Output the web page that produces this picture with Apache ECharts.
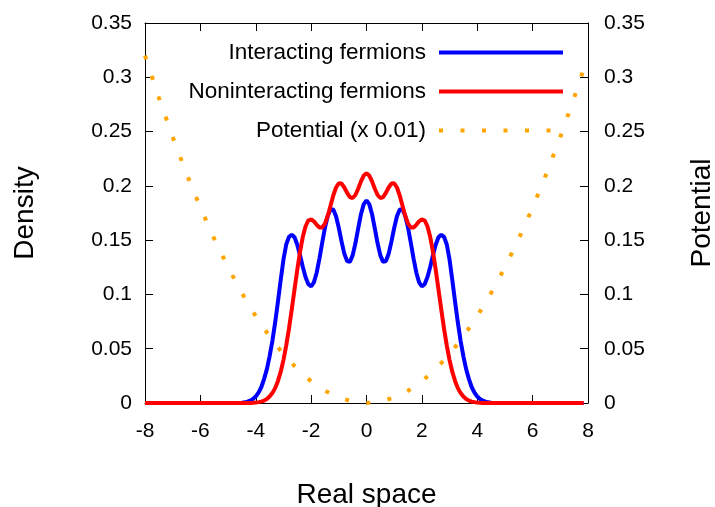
<!DOCTYPE html>
<html>
<head>
<meta charset="utf-8">
<script src="https://cdn.jsdelivr.net/npm/echarts@6/dist/echarts.min.js"></script>
<style>
  html, body { margin: 0; padding: 0; background: #fff; overflow: hidden; }
  #chart { width: 715px; height: 507px; }
</style>
</head>
<body>
<div id="chart"></div>
<script>
// Sample positions along the real-space axis
const xs = [
  -8, -7, -6, -5,
  -4.5, -4.4, -4.3, -4.2, -4.1, -4.0, -3.9, -3.8, -3.7, -3.6,
  -3.5, -3.4, -3.3, -3.2, -3.1, -3.0, -2.9, -2.8, -2.7, -2.6,
  -2.5, -2.4, -2.3, -2.2, -2.1, -2.0, -1.9, -1.8, -1.7, -1.6,
  -1.5, -1.4, -1.3, -1.2, -1.1, -1.0, -0.9, -0.8, -0.7, -0.6,
  -0.5, -0.4, -0.3, -0.2, -0.1, 0,
  0.1, 0.2, 0.3, 0.4, 0.5, 0.6, 0.7, 0.8, 0.9, 1.0,
  1.1, 1.2, 1.3, 1.4, 1.5, 1.6, 1.7, 1.8, 1.9, 2.0,
  2.1, 2.2, 2.3, 2.4, 2.5, 2.6, 2.7, 2.8, 2.9, 3.0,
  3.1, 3.2, 3.3, 3.4, 3.5, 3.6, 3.7, 3.8, 3.9, 4.0,
  4.1, 4.2, 4.3, 4.4, 4.5,
  5, 6, 7, 7.84
];

// Density of the interacting system
const interacting = [
  0, 0, 0, 0,
  0.0003, 0.0006, 0.0012, 0.0022, 0.0037,
  0.0060, 0.0095, 0.0145, 0.0220, 0.0310, 0.0430, 0.0570, 0.0740, 0.0930, 0.1130,
  0.1320, 0.1460, 0.1530, 0.1550, 0.1526, 0.1458, 0.1361, 0.1253, 0.1158, 0.1094,
  0.1074, 0.1111, 0.1200, 0.1330, 0.1476, 0.1616, 0.1723, 0.1782, 0.1782, 0.1720,
  0.1612, 0.1486, 0.1374, 0.1307, 0.1300, 0.1360, 0.1471, 0.1608, 0.1739, 0.1832,
  0.1866,
  0.1832, 0.1739, 0.1608, 0.1471, 0.1360, 0.1300, 0.1307, 0.1374, 0.1486, 0.1612,
  0.1720, 0.1782, 0.1782, 0.1723, 0.1616, 0.1476, 0.1330, 0.1200, 0.1111, 0.1074,
  0.1094, 0.1158, 0.1253, 0.1361, 0.1458, 0.1526, 0.1550, 0.1530, 0.1460, 0.1320,
  0.1130, 0.0930, 0.0740, 0.0570, 0.0430, 0.0310, 0.0220, 0.0145, 0.0095, 0.0060,
  0.0037, 0.0022, 0.0012, 0.0006, 0.0003,
  0, 0, 0, 0
];

// Density of the noninteracting system
const noninteracting = [
  0, 0, 0, 0,
  0, 0, 0.0001, 0.0001, 0.0002,
  0.0004, 0.0008, 0.0013, 0.0022, 0.0037, 0.0059, 0.0091, 0.0137, 0.0201, 0.0286,
  0.0395, 0.0529, 0.0685, 0.0861, 0.1045, 0.1227, 0.1394, 0.1531, 0.1628, 0.1681,
  0.1692, 0.1673, 0.1641, 0.1616, 0.1617, 0.1653, 0.1723, 0.1816, 0.1911, 0.1985,
  0.2024, 0.2021, 0.1985, 0.1936, 0.1897, 0.1888, 0.1916, 0.1973, 0.2041, 0.2095,
  0.2116,
  0.2095, 0.2041, 0.1973, 0.1916, 0.1888, 0.1897, 0.1936, 0.1985, 0.2021, 0.2024,
  0.1985, 0.1911, 0.1816, 0.1723, 0.1653, 0.1617, 0.1616, 0.1641, 0.1673, 0.1692,
  0.1681, 0.1628, 0.1531, 0.1394, 0.1227, 0.1045, 0.0861, 0.0685, 0.0529, 0.0395,
  0.0286, 0.0201, 0.0137, 0.0091, 0.0059, 0.0037, 0.0022, 0.0013, 0.0008, 0.0004,
  0.0002, 0.0001, 0.0001, 0, 0,
  0, 0, 0, 0
];

// Trap potential (scaled by 0.01)
const potX = [
  -8, -7.5, -7, -6.5, -6, -5.5, -5, -4.5, -4, -3.5, -3, -2.5, -2, -1.5, -1, -0.5,
  0, 0.5, 1, 1.5, 2, 2.5, 3, 3.5, 4, 4.5, 5, 5.5, 6, 6.5, 7, 7.5, 7.84
];
const potential = [
  0.32, 0.2813, 0.245, 0.2113, 0.18, 0.1513, 0.125, 0.1013, 0.08, 0.0613, 0.045, 0.0313, 0.02, 0.0113, 0.005, 0.0013,
  0, 0.0013, 0.005, 0.0113, 0.02, 0.0313, 0.045, 0.0613, 0.08, 0.1013, 0.125, 0.1513, 0.18, 0.2113, 0.245, 0.2813, 0.3073
];

const xTicks = { min: -8, max: 8, interval: 2 };
const yTicks = { min: 0, max: 0.35, interval: 0.05 };
const seriesNames = ['Interacting fermions', 'Noninteracting fermions', 'Potential (x 0.01)'];

const FONT = "'Liberation Sans', Arial, Helvetica, sans-serif";
const pair = (xArr, yArr) => xArr.map((x, i) => [x, yArr[i]]);

const chart = echarts.init(document.getElementById('chart'), null, {
  renderer: 'canvas', width: 715, height: 507
});

const axisCommon = {
  axisLine: { show: true, onZero: false, lineStyle: { color: '#000', width: 1 } },
  axisTick: { show: true, inside: true, length: 8, lineStyle: { color: '#000', width: 1 } },
  splitLine: { show: false },
  axisLabel: { color: '#000', fontSize: 21, fontFamily: FONT },
  nameTextStyle: { color: '#000', fontSize: 28, fontFamily: FONT }
};

chart.setOption({
  animation: false,
  backgroundColor: '#fff',
  textStyle: { fontFamily: FONT },
  grid: {
    left: 145, right: 127, top: 23, bottom: 104,
    containLabel: false, outerBoundsMode: 'none'
  },
  legend: {
    orient: 'vertical',
    align: 'right',
    right: 145,
    top: 36,
    itemWidth: 124,
    itemHeight: 14,
    itemGap: 16,
    selectedMode: false,
    lineStyle: { width: 4 },
    itemStyle: { opacity: 0 },
    textStyle: { color: '#000', fontSize: 22.5, fontFamily: FONT, padding: [0, 8, 0, 0] },
    data: seriesNames
  },
  xAxis: [
    Object.assign({}, axisCommon, {
      type: 'value', position: 'bottom', ...xTicks,
      name: 'Real space', nameLocation: 'middle', nameGap: 78,
      axisLabel: Object.assign({}, axisCommon.axisLabel, { margin: 18 })
    }),
    Object.assign({}, axisCommon, {
      type: 'value', position: 'top', ...xTicks,
      axisLabel: { show: false }
    })
  ],
  yAxis: [
    Object.assign({}, axisCommon, {
      type: 'value', position: 'left', ...yTicks,
      name: 'Density', nameLocation: 'middle', nameRotate: 90, nameGap: 106,
      axisLabel: Object.assign({}, axisCommon.axisLabel, { margin: 13 })
    }),
    Object.assign({}, axisCommon, {
      type: 'value', position: 'right', ...yTicks,
      name: 'Potential', nameLocation: 'middle', nameRotate: 90, nameGap: 100,
      axisLabel: Object.assign({}, axisCommon.axisLabel, { margin: 16 })
    })
  ],
  series: [
    {
      name: seriesNames[0], type: 'line', xAxisIndex: 0, yAxisIndex: 0,
      data: pair(xs, interacting), symbol: 'none', smooth: false,
      lineStyle: { color: '#0000ff', width: 4 }, itemStyle: { color: '#0000ff' }
    },
    {
      name: seriesNames[1], type: 'line', xAxisIndex: 0, yAxisIndex: 0,
      data: pair(xs, noninteracting), symbol: 'none', smooth: false,
      lineStyle: { color: '#ff0000', width: 4 }, itemStyle: { color: '#ff0000' }
    },
    {
      name: seriesNames[2], type: 'line', xAxisIndex: 0, yAxisIndex: 1,
      data: pair(potX, potential), symbol: 'none', smooth: false,
      lineStyle: { color: '#ffa500', width: 4, type: [4, 17.5], cap: 'butt' },
      itemStyle: { color: '#ffa500' }
    }
  ]
});
</script>
</body>
</html>
